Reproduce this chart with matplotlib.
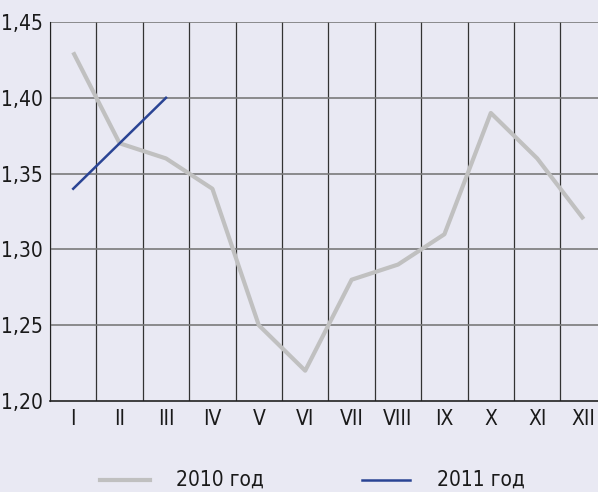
import matplotlib.pyplot as plt
import numpy as np
from matplotlib import font_manager

months = ['I', 'II', 'III', 'IV', 'V', 'VI', 'VII', 'VIII', 'IX', 'X', 'XI', 'XII']
rate_2010 = [1.43, 1.37, 1.36, 1.34, 1.25, 1.22, 1.28, 1.29, 1.31, 1.39, 1.36, 1.32]
rate_2011 = [1.34, 1.37, 1.40]
yticks = [1.20, 1.25, 1.30, 1.35, 1.40, 1.45]

bg = '#e9e9f3'
tf = dict(family='DejaVu Sans', stretch='condensed', size=15)

fig = plt.figure(figsize=(5.98, 4.92), dpi=100, facecolor=bg)
ax = fig.add_axes([50/598, 1 - 401/492, 548/598, 379/492], facecolor=bg)

x = np.arange(len(months))
ax.plot(x, rate_2010, color='#c0c0c0', lw=3, solid_capstyle='butt', zorder=3)
ax.plot(x[:len(rate_2011)], rate_2011, color='#2a4494', lw=1.8, zorder=4)

ax.set_xlim(-0.5, 11.31)
ax.set_ylim(1.20, 1.45)

# grid between months
for b in np.arange(-0.5, 12, 1.0):
    ax.axvline(b, color='#333333', lw=0.9, zorder=1)
for y in yticks[1:]:
    ax.axhline(y, color='#7a7a7a', lw=1.2, zorder=1)

for s in ['top', 'right']:
    ax.spines[s].set_visible(False)
ax.spines['left'].set_color('#222222')
ax.spines['bottom'].set_color('#222222')
ax.spines['bottom'].set_linewidth(1.2)

ax.set_xticks(x)
ax.set_xticklabels(months, fontproperties=font_manager.FontProperties(**tf))
ax.set_yticks(yticks)
ax.set_yticklabels([f'{v:.2f}'.replace('.', ',') for v in yticks],
                   fontproperties=font_manager.FontProperties(**tf))
ax.tick_params(length=0, pad=6, colors='#1a1a1a')
ax.tick_params(axis='y', pad=5)

# legend below
fig.add_artist(plt.Line2D([100/598, 150/598], [12/492, 12/492], color='#c0c0c0', lw=3))
fig.text(176/598, 12/492, '2010 год', fontproperties=font_manager.FontProperties(**tf),
         va='center', color='#1a1a1a')
fig.add_artist(plt.Line2D([362/598, 410/598], [12/492, 12/492], color='#2a4494', lw=1.8))
fig.text(437/598, 12/492, '2011 год', fontproperties=font_manager.FontProperties(**tf),
         va='center', color='#1a1a1a')

fig.savefig('out.png', dpi=100, facecolor=bg)
